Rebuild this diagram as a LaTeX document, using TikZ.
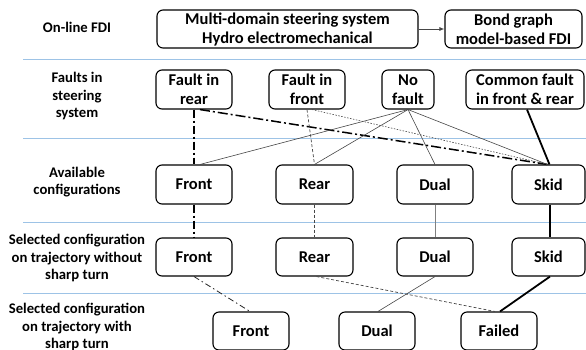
\documentclass[tikz,border=0pt]{standalone}
\usepackage{fontspec}
\setmainfont{Carlito}
\usetikzlibrary{arrows.meta}
\definecolor{sepblue}{RGB}{157,195,230}
\definecolor{linegray}{RGB}{70,70,70}
\tikzset{
  box/.style={draw, rounded corners=6pt, line width=1.1pt, align=center,
    inner sep=0pt, font=\fontsize{16.5}{19}\selectfont\bfseries},
  rowlabel/.style={align=center, inner sep=0pt,
    font=\fontsize{14.7}{17.5}\selectfont\bfseries},
  sep/.style={draw=sepblue, line width=0.9pt},
  thinlink/.style={draw=linegray, line width=0.6pt},
  thicklink/.style={draw=black, line width=1.8pt},
  dashdotbig/.style={draw=black, line width=1.5pt,
    dash pattern=on 10pt off 3pt on 2pt off 3pt},
  dashdotmid/.style={draw=black, line width=1.1pt,
    dash pattern=on 8pt off 3pt on 2pt off 3pt},
  dashdotsmall/.style={draw=black!85, line width=0.8pt,
    dash pattern=on 6pt off 3pt on 1.5pt off 3pt},
  finedash/.style={draw=linegray, line width=0.7pt, dash pattern=on 3pt off 2pt},
  finedot/.style={draw=linegray, line width=0.6pt, dash pattern=on 1.5pt off 1.5pt},
}
\begin{document}
\begin{tikzpicture}[x=1pt,y=-1pt]
\useasboundingbox (0,0) rectangle (586,349);
\clip (0,0) rectangle (586,349);

% row separators
\foreach \yy in {59,138,222,293}
  \draw[sep] (23,\yy) -- (586,\yy);

% row labels
\node[rowlabel] (l1) at (77,27) {On-line FDI};
\node[rowlabel] (l2) at (77,96) {Faults in\\steering\\system};
\node[rowlabel] (l3) at (77,182) {Available\\configurations};
\node[rowlabel] (l4) at (77,258) {Selected configuration\\on trajectory without\\sharp turn};
\node[rowlabel] (l5) at (77,327) {Selected configuration\\on trajectory with\\sharp turn};

% on-line FDI
\node[box, minimum width=261pt, minimum height=38pt] (sys) at (287.5,29)
  {Multi-domain steering system\\Hydro electromechanical};
\node[box, minimum width=137pt, minimum height=38pt] (bg) at (513.5,29)
  {Bond graph\\model-based FDI};
\draw[thinlink, line width=0.8pt, -{Latex[length=5pt,width=4pt]}] (sys.east) -- (bg.west);

% faults
\node[box, minimum width=76pt, minimum height=39pt] (frear) at (194,89.5) {Fault in\\rear};
\node[box, minimum width=76pt, minimum height=39pt] (ffront) at (307,89.5) {Fault in\\front};
\node[box, minimum width=52pt, minimum height=39pt] (nof) at (408,89.5) {No\\fault};
\node[box, minimum width=118pt, minimum height=39pt] (comm) at (525,89.5) {Common fault\\in front \& rear};

% available configurations
\node[box, minimum width=76pt, minimum height=39pt] (afront) at (194,184.5) {Front};
\node[box, minimum width=77pt, minimum height=39pt] (arear) at (314.5,184.5) {Rear};
\node[box, minimum width=76pt, minimum height=39pt] (adual) at (435,184.5) {Dual};
\node[box, minimum width=73pt, minimum height=39pt] (askid) at (548.5,184.5) {Skid};

% selected, no sharp turn
\node[box, minimum width=76pt, minimum height=38pt] (sfront) at (194,257) {Front};
\node[box, minimum width=77pt, minimum height=38pt] (srear) at (314.5,257) {Rear};
\node[box, minimum width=76pt, minimum height=38pt] (sdual) at (435,257) {Dual};
\node[box, minimum width=73pt, minimum height=38pt] (sskid) at (548.5,257) {Skid};

% selected, sharp turn
\node[box, minimum width=76pt, minimum height=38pt] (tfront) at (251,331) {Front};
\node[box, minimum width=76pt, minimum height=38pt] (tdual) at (377,331) {Dual};
\node[box, minimum width=76pt, minimum height=38pt] (tfail) at (499,331) {Failed};

% fault in rear
\draw[dashdotmid] (frear.south) -- (afront.north);
\draw[dashdotmid] (afront.south) -- (sfront.north);
\draw[dashdotbig] ([xshift=6pt]frear.south) -- ([xshift=-1pt]askid.north);
\draw[dashdotsmall] (sfront.south) -- ([xshift=-1pt]tfront.north);

% fault in front
\draw[finedash] (ffront.south) -- (arear.north);
\draw[finedash] (arear.south) -- (srear.north);
\draw[finedot] ([xshift=5pt]ffront.south) -- ([xshift=-1pt]askid.north);
\draw[finedash] ([xshift=2pt]srear.south) -- ([xshift=-4pt]tfail.north);

% no fault
\draw[thinlink] (nof.south) -- ([xshift=6pt]afront.north);
\draw[thinlink] (nof.south) -- (arear.north);
\draw[thinlink] (nof.south) -- (adual.north);
\draw[thinlink] (nof.south) -- ([xshift=-1pt]askid.north);
\draw[thinlink, draw=gray] (adual.south) -- (sdual.north);
\draw[thinlink] (sdual.south) -- ([xshift=1pt]tdual.north);

% common fault
\draw[thicklink] ([xshift=2pt]comm.south) -- ([xshift=1pt]askid.north);
\draw[thicklink] ([xshift=1.5pt]askid.south) -- ([xshift=1.5pt]sskid.north);
\draw[thicklink] ([xshift=1.5pt]sskid.south) -- ([xshift=1pt]tfail.north);
\end{tikzpicture}
\end{document}
